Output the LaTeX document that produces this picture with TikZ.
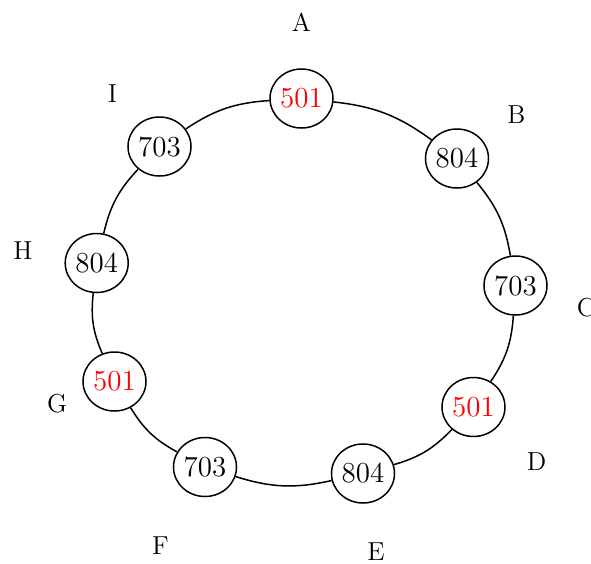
\documentclass[tikz,border=0pt]{standalone}
\usetikzlibrary{shapes.geometric}
\begin{document}
\begin{tikzpicture}[x=0.5pt,y=-0.5pt,
  vnode/.style={draw,line width=0.75pt,ellipse,minimum width=31.5pt,minimum height=29.5pt,inner sep=0pt,fill=white,font=\fontsize{14.5}{17}\selectfont},
  red/.style={text=red},
  lbl/.style={font=\fontsize{13}{15}\selectfont,inner sep=0pt},
  link/.style={line width=0.75pt,bend left=15}]
\useasboundingbox (0,0) rectangle (591,564);
\node[vnode,red] (a) at (301.5,98.5) {501};
\node[vnode] (b) at (457,158.5) {804};
\node[vnode] (c) at (515.5,285.5) {703};
\node[vnode,red] (d) at (473.5,407) {501};
\node[vnode] (e) at (363,473.5) {804};
\node[vnode] (f) at (205,467) {703};
\node[vnode,red] (g) at (114.5,381.5) {501};
\node[vnode] (h) at (96.7,263) {804};
\node[vnode] (i) at (159.5,146.5) {703};
\draw[link] (a) to (b);
\draw[link] (b) to (c);
\draw[link] (c) to (d);
\draw[link] (d) to (e);
\draw[link] (e) to (f);
\draw[link] (f) to (g);
\draw[link] (g) to (h);
\draw[link] (h) to (i);
\draw[link] (i) to (a);
\node[lbl] (la) at (301.5,22.5) {A};
\node[lbl] (lb) at (516.5,114.5) {B};
\node[lbl] (lc) at (586,308) {C};
\node[lbl] (ld) at (536.5,461.5) {D};
\node[lbl] (le) at (376,552) {E};
\node[lbl] (lf) at (160.5,546) {F};
\node[lbl] (lg) at (57,403.5) {G};
\node[lbl] (lh) at (23,251) {H};
\node[lbl] (li) at (112.5,94) {I};
\end{tikzpicture}
\end{document}
